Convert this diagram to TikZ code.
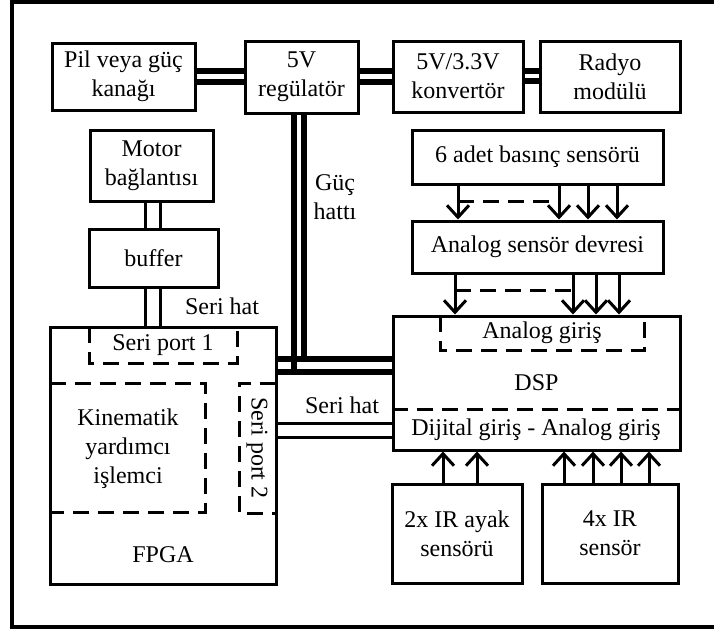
\documentclass[tikz,border=0pt]{standalone}
\usepackage{fontspec}
\setmainfont{Liberation Serif}
\usetikzlibrary{arrows.meta}

\tikzset{
    blk/.style={draw, line width=1.5pt, inner sep=0pt, align=center},
    dsh/.style={line width=1.5pt, dash pattern=on 8pt off 4.5pt},
    pwr/.style={line width=3pt},
    sig/.style={line width=1.5pt},
    arr/.style={line width=1.5pt, -{Straight Barb[length=6pt,width=11pt]}},
    lbl/.style={align=center, inner sep=0pt}
}

\begin{document}
\begin{tikzpicture}[x=0.5pt, y=-0.5pt, font=\fontsize{12}{14.5}\selectfont]

    \useasboundingbox (0,0) rectangle (714,632);
    \draw[line width=2pt] (714,1.5) -- (11.5,1.5) -- (11.5,626.5) -- (714,626.5);

    %power chain
    \node[blk, minimum width=71.5pt, minimum height=33.5pt] (pil) at (123.5,76.5) {Pil veya güç\\kanağı};
    \node[blk, minimum width=56.5pt, minimum height=36pt] (reg) at (301.5,77) {5V\\regülatör};
    \node[blk, minimum width=65pt, minimum height=35.5pt] (conv) at (458,76.5) {5V/3.3V\\konvertör};
    \node[blk, minimum width=70pt, minimum height=35.5pt] (radyo) at (610,76.5) {Radyo\\modülü};

    \draw[pwr] (pil.east |- 0,71) -- (reg.west |- 0,71);
    \draw[pwr] (pil.east |- 0,82) -- (reg.west |- 0,82);
    \draw[pwr] (reg.east |- 0,71) -- (conv.west |- 0,71);
    \draw[pwr] (reg.east |- 0,82) -- (conv.west |- 0,82);
    \draw[pwr] (conv.east |- 0,71) -- (radyo.west |- 0,71);
    \draw[pwr] (conv.east |- 0,81) -- (radyo.west |- 0,81);

    %motor side
    \node[blk, minimum width=61.5pt, minimum height=35.5pt] (motor) at (151.5,165.5) {Motor\\bağlantısı};
    \node[blk, minimum width=64.5pt, minimum height=29pt] (buf) at (153.5,258) {buffer};
    \node[blk, minimum width=113pt, minimum height=128.5pt] (fpga) at (163,455.5) {};
    \node[lbl] (fpgalbl) at (163,555) {FPGA};

    \draw[sig] (motor.south -| 145,0) -- (buf.north -| 145,0);
    \draw[sig] (motor.south -| 160,0) -- (buf.north -| 160,0);
    \draw[sig] (buf.south -| 145,0) -- (fpga.north -| 145,0);
    \draw[sig] (buf.south -| 160,0) -- (fpga.north -| 160,0);
    \node[lbl] (serihat1) at (222,306) {Seri hat};

    %inside fpga
    \draw[dsh] (89,327) -- (89,363) -- (237,363) -- (237,327);
    \node[lbl] (sp1) at (163,345) {Seri port 1};
    \draw[dsh] (50,383) -- (205,383) -- (205,512) -- (50,512);
    \node[lbl] (kin) at (128,449) {Kinematik\\yardımcı\\işlemci};
    \draw[dsh] (276,383) -- (239,383) -- (239,513) -- (276,513);
    \node[lbl, rotate=-90] (sp2) at (257,448) {Seri port 2};

    %sensors and dsp
    \node[blk, minimum width=125.5pt, minimum height=27pt] (bas) at (537.5,157) {6 adet basınç sensörü};
    \node[blk, minimum width=125.5pt, minimum height=26pt] (asd) at (537.5,247) {Analog sensör devresi};
    \node[blk, minimum width=143.5pt, minimum height=67pt] (dsp) at (536.5,383) {DSP};
    \node[blk, minimum width=65pt, minimum height=49.5pt] (ir2) at (457,533.5) {2x IR ayak\\sensörü};
    \node[blk, minimum width=68pt, minimum height=49.5pt] (ir4) at (610,533.5) {4x IR\\sensör};

    \draw[dsh] (440,316) -- (440,350) -- (644,350) -- (644,316);
    \node[lbl] (ag) at (542,333) {Analog giriş};
    \draw[dsh] (dsp.west |- 0,409) -- (dsp.east |- 0,409);
    \node[lbl] (dg) at (536,430) {Dijital giriş - Analog giriş};

    \foreach \x in {458,559,588,617}
        \draw[arr] (bas.south -| \x,0) -- (asd.north -| \x,0);
    \draw[dsh] (458,201) -- (559,201);
    \foreach \x in {455,573,596,619}
        \draw[arr] (asd.south -| \x,0) -- (dsp.north -| \x,0);
    \draw[dsh] (455,290) -- (573,290);
    \foreach \x in {443,477}
        \draw[arr] (ir2.north -| \x,0) -- (dsp.south -| \x,0);
    \foreach \x in {564,593,621,649}
        \draw[arr] (ir4.north -| \x,0) -- (dsp.south -| \x,0);

    %power line and serial line
    \draw[pwr] (reg.south -| 294,0) -- (294,372);
    \draw[pwr] (reg.south -| 304,0) -- (304,359);
    \draw[pwr] (fpga.east |- 0,359) -- (dsp.west |- 0,359);
    \draw[pwr] (fpga.east |- 0,372) -- (dsp.west |- 0,372);
    \node[lbl] (guc) at (335,197) {Güç\\hattı};

    \draw[sig] (fpga.east |- 0,423) -- (dsp.west |- 0,423);
    \draw[sig] (fpga.east |- 0,437) -- (dsp.west |- 0,437);
    \node[lbl] (serihat2) at (342,405) {Seri hat};

\end{tikzpicture}
\end{document}
